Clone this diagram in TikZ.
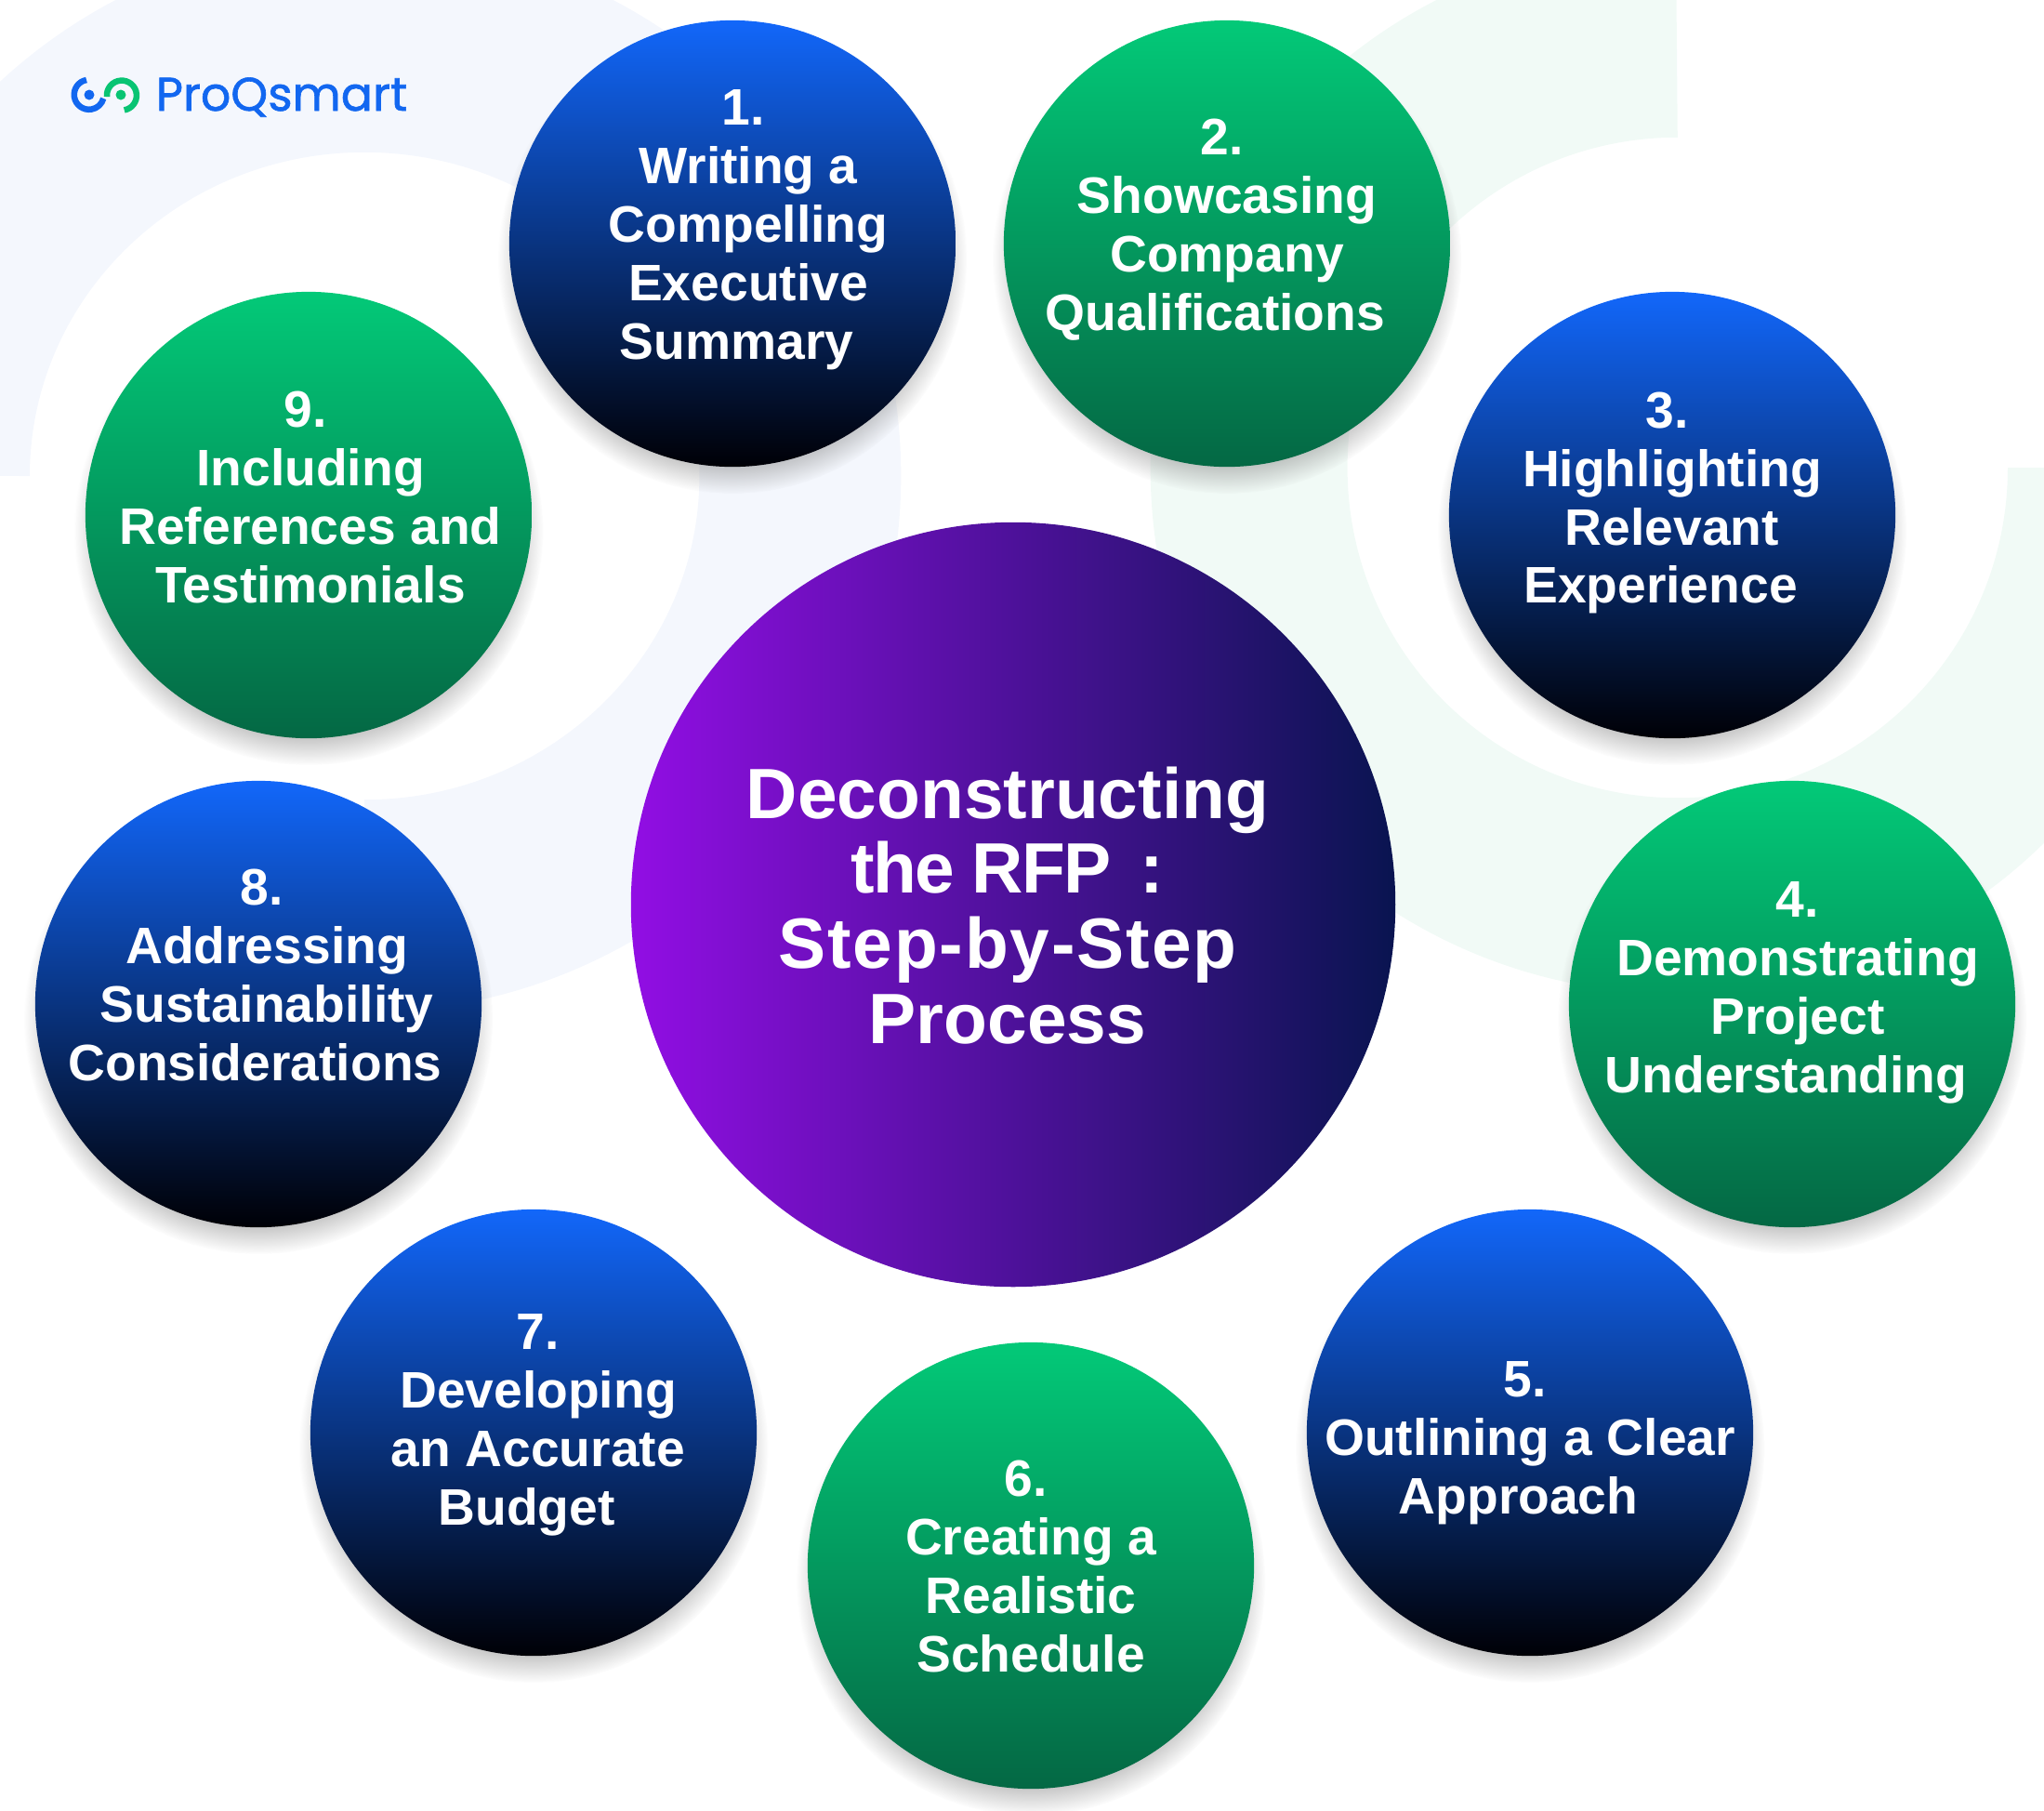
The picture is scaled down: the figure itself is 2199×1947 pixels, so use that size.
\documentclass[tikz,border=0pt]{standalone}
\usepackage{fontspec}
\setmainfont{Liberation Sans}
\newfontfamily\logofont[FakeBold=1.2]{Poppins}
\usetikzlibrary{shadows}
\definecolor{ringblue}{RGB}{244,247,253}
\definecolor{ringgreen}{RGB}{241,250,246}
\definecolor{bluetop}{RGB}{18,103,250}
\definecolor{bluebot}{RGB}{0,0,6}
\definecolor{greentop}{RGB}{3,201,120}
\definecolor{greenbot}{RGB}{4,104,68}
\definecolor{hubleft}{RGB}{146,14,228}
\definecolor{hubright}{RGB}{9,20,80}
\definecolor{logoblue}{RGB}{18,103,240}
\definecolor{logogreen}{RGB}{8,196,115}
\newcommand{\nudgeone}{\hspace*{0.11cm}}
\newcommand{\nudgetwo}{\hspace*{0.25cm}}
\tikzset{
  softshadow/.style={circular drop shadow={shadow xshift=0cm, shadow yshift=-0.16cm, shadow scale=1.05, opacity=0.55}},
  bluedisc/.style={circle, minimum size=4.8cm, inner sep=0pt, top color=bluetop, bottom color=bluebot, softshadow},
  greendisc/.style={circle, minimum size=4.8cm, inner sep=0pt, top color=greentop, bottom color=greenbot, softshadow},
  hubdisc/.style={circle, minimum size=8.22cm, inner sep=0pt, left color=hubleft, right color=hubright},
  steptext/.style={text=white, align=center, font=\fontsize{15.7}{17.9}\selectfont\bfseries},
  hubtext/.style={text=white, align=center, font=\fontsize{21.8}{23}\selectfont\bfseries}
}
\begin{document}
\begin{tikzpicture}[x=0.01cm, y=-0.01cm]
        \clip (0,0) rectangle (2199,1947);
        % background rings
        \fill[ringblue] (392,1089) arc[start angle=-90, end angle=180, radius=5.77cm] -- (32,512) arc[start angle=180, end angle=-90, x radius=3.6cm, y radius=3.48cm] -- cycle;
        \fill[ringgreen] (1803,-62) arc[start angle=90, end angle=360, radius=5.65cm] -- (2160,503) arc[start angle=360, end angle=90, radius=3.55cm] -- cycle;

        % logo
        \draw[logoblue, line width=0.065cm] (93,86) arc[start angle=100, end angle=345, radius=0.16cm];
        \fill[logoblue] (96,102) circle (5.5);
        \draw[logogreen, line width=0.065cm] (115,104) arc[start angle=185, end angle=-80, radius=0.16cm];
        \fill[logogreen] (130,102) circle (5.5);
        \node[anchor=base west, inner sep=0pt, text=logoblue, font=\logofont\fontsize{14.4}{16}\selectfont] (logo) at (167,119) {ProQsmart};

        % discs
        \node[bluedisc] (disc1) at (788,262) {};
        \node[greendisc] (disc2) at (1320,262) {};
        \node[bluedisc] (disc3) at (1799,554) {};
        \node[greendisc] (disc4) at (1928,1080) {};
        \node[bluedisc] (disc5) at (1646,1541) {};
        \node[greendisc] (disc6) at (1109,1684) {};
        \node[bluedisc] (disc7) at (574,1541) {};
        \node[bluedisc] (disc8) at (278,1080) {};
        \node[greendisc] (disc9) at (332,554) {};
        \node[hubdisc] (hub) at (1090,973) {};

        % labels
        \node[steptext] (label1) at (805,247) {1.\nudgeone\\Writing a\\Compelling\\Executive\\Summary\nudgetwo};
        \node[steptext] (label2) at (1320,247) {2.\nudgeone\\Showcasing\\Company\\Qualifications\nudgetwo};
        \node[steptext] (label3) at (1799,541) {3.\nudgeone\\Highlighting\\Relevant\\Experience\nudgetwo};
        \node[steptext] (label4) at (1934,1068) {4.\\Demonstrating\\Project\\Understanding\nudgetwo};
        \node[steptext] (label5) at (1646,1552) {5.\nudgeone\\Outlining a Clear\\Approach\nudgetwo};
        \node[steptext] (label6) at (1109,1685) {6.\nudgeone\\Creating a\\Realistic\\Schedule};
        \node[steptext] (label7) at (579,1533) {7.\\Developing\\an Accurate\\Budget\nudgetwo};
        \node[steptext] (label8) at (287,1049) {8.\nudgeone\\Addressing\\Sustainability\\Considerations\nudgetwo};
        \node[steptext] (label9) at (334,535) {9.\nudgeone\\Including\\References and\\Testimonials};
        \node[hubtext] (hublabel) at (1084,974) {Deconstructing\\{\addfontfeature{LetterSpace=-2.7}the RFP}\hspace{8.9pt}:\hspace*{0.17cm}\\{\addfontfeature{LetterSpace=2.4}Step-by-Step}\\Process};
\end{tikzpicture}
\end{document}
